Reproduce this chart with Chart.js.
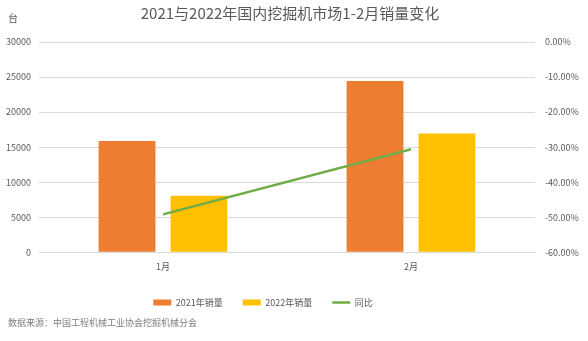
<!DOCTYPE html>
<html>
<head>
<meta charset="utf-8">
<script src="https://cdn.jsdelivr.net/npm/chart.js@4/dist/chart.umd.min.js"></script>
<style>
    html, body { margin: 0; padding: 0; background: #fff; }
    #wrap { position: relative; width: 588px; height: 341px; font-family: "Noto Sans CJK SC", "Noto Sans", sans-serif; }
    #title { position: absolute; left: 0; width: 580px; top: 2px; text-align: center; font-size: 15px; color: #595959; }
    #unit { position: absolute; left: 8px; top: 10px; font-size: 10px; color: #595959; }
    #source { position: absolute; left: 8px; top: 316px; font-size: 9px; color: #7f7f7f; }
</style>
</head>
<body>
<div id="wrap">
    <canvas id="salesChart" width="588" height="341"></canvas>
    <div id="title">2021与2022年国内挖掘机市场1-2月销量变化</div>
    <div id="unit">台</div>
    <div id="source">数据来源：中国工程机械工业协会挖掘机械分会</div>
</div>
<script>
// Data
const months = ['1月', '2月'];
const sales2021 = [15880, 24420];
const sales2022 = [8070, 16940];
const yoy = [-0.492, -0.306];

const tickFont = { family: '"Noto Sans CJK SC", "Noto Sans", sans-serif', size: 9 };

// legend sits a bit left of the canvas centre
const legendShift = {
    id: 'legendShift',
    afterLayout(chart) {
        chart.legend.left -= 31;
        chart.legend.right -= 31;
    }
};

function loadSalesChart() {
    const ctx = document.getElementById('salesChart').getContext('2d');
    new Chart(ctx, {
        data: {
            labels: months,
            datasets: [{
                type: 'bar',
                label: '2021年销量',
                data: sales2021,
                yAxisID: 'y',
                backgroundColor: '#ED7D31',
                pointStyle: 'rect',
                categoryPercentage: 0.58,
                barPercentage: 0.79,
                order: 1
            }, {
                type: 'bar',
                label: '2022年销量',
                data: sales2022,
                yAxisID: 'y',
                backgroundColor: '#FFC000',
                pointStyle: 'rect',
                categoryPercentage: 0.58,
                barPercentage: 0.79,
                order: 1
            }, {
                type: 'line',
                label: '同比',
                data: yoy,
                yAxisID: 'y1',
                borderColor: '#70AD47',
                backgroundColor: '#70AD47',
                borderWidth: 2.5,
                pointRadius: 0,
                pointStyle: 'line',
                order: 0
            }]
        },
        options: {
            responsive: false,
            animation: false,
            layout: { padding: { top: 42, bottom: 24, left: 0, right: 0 } },
            scales: {
                x: {
                    grid: { display: false },
                    border: { color: '#D9D9D9' },
                    ticks: { font: tickFont, color: '#595959', padding: 1 },
                    afterFit: (s) => { s.height += 5; }
                },
                y: {
                    position: 'left',
                    min: 0,
                    max: 30000,
                    ticks: {
                        stepSize: 5000,
                        font: tickFont,
                        color: '#595959',
                        padding: 8,
                        callback: (v) => String(v)
                    },
                    grid: { color: '#D9D9D9', drawTicks: false },
                    border: { display: false },
                    afterFit: (s) => { s.width = 39; }
                },
                y1: {
                    position: 'right',
                    min: -0.6,
                    max: 0,
                    ticks: {
                        stepSize: 0.1,
                        font: tickFont,
                        color: '#595959',
                        padding: 10,
                        callback: (v) => (v * 100).toFixed(2) + '%'
                    },
                    grid: { display: false, drawTicks: false },
                    border: { display: false },
                    afterFit: (s) => { s.width = 53; }
                }
            },
            plugins: {
                legend: {
                    position: 'bottom',
                    labels: {
                        usePointStyle: true,
                        pointStyleWidth: 18,
                        boxHeight: 6,
                        padding: 20,
                        font: { family: '"Noto Sans CJK SC", "Noto Sans", sans-serif', size: 9 },
                        color: '#595959',
                        sort: (a, b) => a.datasetIndex - b.datasetIndex
                    }
                },
                tooltip: { enabled: false }
            }
        },
        plugins: [legendShift]
    });
}

document.addEventListener('DOMContentLoaded', () => {
    loadSalesChart();
});
</script>
</body>
</html>
